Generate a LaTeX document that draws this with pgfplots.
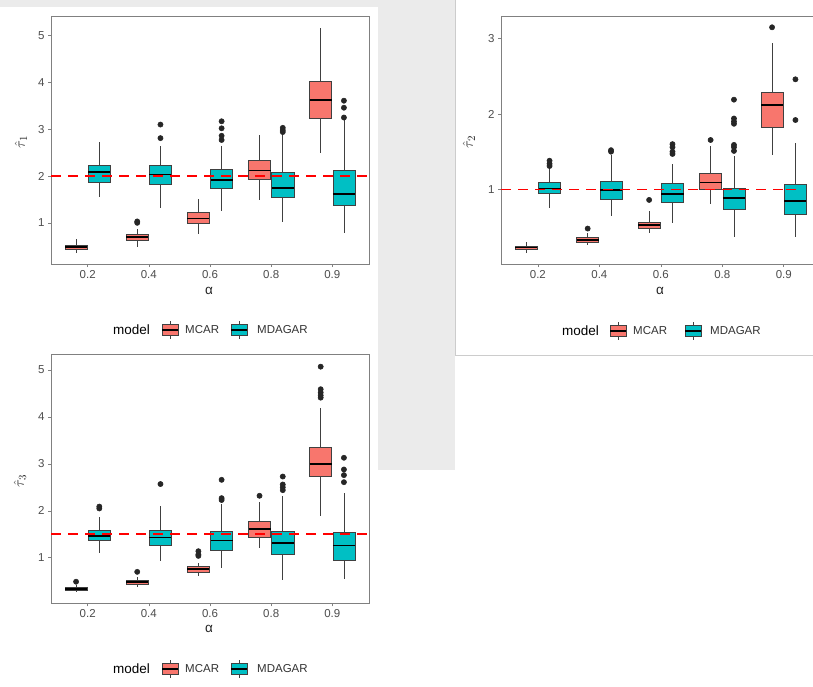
\documentclass[border=0pt]{standalone}
\usepackage{fontspec}
\setmainfont{Liberation Sans}
\usepackage{pgfplots}
\pgfplotsset{compat=1.18}
\usepgfplotslibrary{statistics}
\definecolor{mcar}{HTML}{F8766D}
\definecolor{mdagar}{HTML}{00BFC4}
\definecolor{axgray}{HTML}{808080}
\definecolor{txtgray}{HTML}{4D4D4D}
\definecolor{bggray}{HTML}{EBEBEB}
\definecolor{refred}{HTML}{FF0000}
\newcommand{\tickfont}{\fontsize{11.5}{13}\selectfont}
\newcommand{\legfont}{\fontsize{11.5}{13}\selectfont}
\newcommand{\titfont}{\fontsize{13.5}{15}\selectfont}
\pgfplotsset{
  boxstyle/.style={solid, draw=black!75, line width=0.55pt,
    mark=*, mark size=2.6pt, mark options={fill=black!85, draw=black!85, solid},
    boxplot/draw direction=y,
    boxplot/box extend=0.36, boxplot/whisker extend=0,
    boxplot/every median/.style={draw=black, line width=1.7pt}},
  panel/.style={scale only axis, width=318pt, height=248pt,
    xmin=0.4, xmax=5.6, xtick={1,2,3,4,5},
    xticklabels={0.2,0.4,0.6,0.8,0.9},
    axis line style={draw=axgray, line width=0.8pt},
    tick style={draw=axgray, line width=0.6pt},
    tick align=outside, major tick length=3pt,
    xtick pos=bottom, ytick pos=left,
    ticklabel style={font=\tickfont, text=txtgray},
    /pgf/number format/assume math mode=true},
  refline/.style={draw=refred, color=refred, solid, line width=1.7pt, dash pattern=on 10pt off 7pt, mark=none},
}
% #1 position, #2 colour, #3..#7 lower whisker, lower quartile, median, upper quartile, upper whisker, #8 outliers
\newcommand{\bp}[8]{\addplot[boxstyle, boxplot/every box/.style={fill=#2, draw=black!75, line width=0.55pt},
  boxplot prepared={draw position=#1, lower whisker=#3, lower quartile=#4, median=#5, upper quartile=#6, upper whisker=#7}]
  table[row sep=\\, y index=0] {v\\#8};}
\newcommand{\bpn}[7]{\addplot[boxstyle, boxplot/every box/.style={fill=#2, draw=black!75, line width=0.55pt},
  boxplot prepared={draw position=#1, lower whisker=#3, lower quartile=#4, median=#5, upper quartile=#6, upper whisker=#7}]
  coordinates {};}
\newcommand{\keybox}[3]{%
  \draw[black!75, line width=0.5pt] ({#1+8},{-#2+9}) -- ({#1+8},{-#2-9});
  \draw[black!75, line width=0.5pt, fill=#3] ({#1},{-#2+5.5}) rectangle ({#1+16},{-#2-5.5});
  \draw[black, line width=1.4pt] ({#1},{-#2}) -- ({#1+16},{-#2});}
\newcommand{\mylegend}[6]{%
  \node[anchor=west, inner sep=0pt, font=\titfont, text=black] at (#1,-#6) {model};
  \keybox{#2}{#6}{mcar}
  \node[anchor=west, inner sep=0pt, font=\legfont, text=black!80] at (#3,-#6) {MCAR};
  \keybox{#4}{#6}{mdagar}
  \node[anchor=west, inner sep=0pt, font=\legfont, text=black!80] at (#5,-#6) {MDAGAR};}
\begin{document}
\begin{tikzpicture}[x=1pt, y=1pt]
\path[use as bounding box, clip] (0,0) rectangle (813,-687);
\fill[white] (0,0) rectangle (813,-687);
% watermark-like grey areas
\fill[bggray] (378,0) rectangle (455,-470);
\fill[bggray] (0,0) rectangle (378,-7);
\draw[black!20, line width=0.6pt] (455,0) -- (455,-355) -- (813,-355);

% ---------------- Panel 1 ----------------
\begin{axis}[panel, at={(51pt,-264pt)}, anchor=south west,
  ymin=0.12, ymax=5.42, ytick={1,2,3,4,5}]
\bpn{0.81}{mcar}{0.35}{0.44}{0.49}{0.53}{0.66}
\bpn{1.19}{mdagar}{1.56}{1.875}{2.08}{2.24}{2.73}
\bp{1.81}{mcar}{0.49}{0.63}{0.69}{0.757}{0.86}{1.0\\1.03\\}
\bp{2.19}{mdagar}{1.31}{1.82}{2.03}{2.22}{2.64}{2.81\\3.10\\}
\bpn{2.81}{mcar}{0.77}{0.985}{1.09}{1.22}{1.51}
\bp{3.19}{mdagar}{1.26}{1.745}{1.91}{2.155}{2.65}{2.77\\2.86\\3.02\\3.17\\}
\bpn{3.81}{mcar}{1.48}{1.93}{2.12}{2.34}{2.87}
\bp{4.19}{mdagar}{1.02}{1.54}{1.75}{2.09}{2.90}{2.94\\2.98\\3.03\\}
\bpn{4.81}{mcar}{2.50}{3.24}{3.62}{4.03}{5.16}
\bp{5.19}{mdagar}{0.79}{1.37}{1.61}{2.13}{3.19}{3.25\\3.46\\3.61\\}
\addplot[refline] coordinates {(0.4,2) (5.6,2)};
\end{axis}
\node[rotate=90, font=\fontsize{15}{17}\selectfont, text=black!85] at (21,-142) {$\hat{\tau}_1$};
\node[font=\titfont, text=black!85] at (209,-291) {α};
\mylegend{113}{162}{185}{231}{257}{330}

% ---------------- Panel 2 ----------------
\begin{axis}[panel, width=312pt, xmax=5.476, at={(501pt,-264pt)}, anchor=south west,
  ymin=0.01, ymax=3.30, ytick={1,2,3}]
\bpn{0.81}{mcar}{0.16}{0.20}{0.23}{0.25}{0.30}
\bp{1.19}{mdagar}{0.75}{0.945}{1.01}{1.09}{1.28}{1.31\\1.34\\1.38\\}
\bp{1.81}{mcar}{0.26}{0.30}{0.33}{0.36}{0.42}{0.48\\}
\bp{2.19}{mdagar}{0.645}{0.87}{0.99}{1.11}{1.455}{1.50\\1.52\\}
\bp{2.81}{mcar}{0.42}{0.48}{0.526}{0.57}{0.716}{0.86\\}
\bp{3.19}{mdagar}{0.55}{0.83}{0.94}{1.08}{1.34}{1.47\\1.50\\1.56\\1.60\\}
\bp{3.81}{mcar}{0.81}{1.0}{1.09}{1.22}{1.575}{1.655\\}
\bp{4.19}{mdagar}{0.37}{0.74}{0.89}{1.02}{1.44}{1.51\\1.56\\1.59\\1.87\\1.90\\1.94\\2.19\\}
\bp{4.81}{mcar}{1.455}{1.82}{2.12}{2.29}{2.94}{3.15\\}
\bp{5.19}{mdagar}{0.37}{0.667}{0.845}{1.065}{1.61}{1.92\\2.46\\}
\end{axis}
% overlay axis (same geometry) carrying the reference line on top of the boxes
\begin{axis}[scale only axis, width=312pt, height=248pt, at={(501pt,-264pt)}, anchor=south west,
  xmin=0.4, xmax=5.476, ymin=0.01, ymax=3.30, hide axis]
\addplot[refline] coordinates {(0.4,1.0) (5.0,1.0)};
\addplot[refline] coordinates {(5.03,1.0) (5.2,1.0)};
\end{axis}
\node[rotate=90, font=\fontsize{15}{17}\selectfont, text=black!85] at (469,-142) {$\hat{\tau}_2$};
\node[font=\titfont, text=black!85] at (660,-291) {α};
\mylegend{562}{610}{633}{685}{710}{331}

% ---------------- Panel 3 ----------------
\begin{axis}[panel, height=249.3pt, at={(51pt,-603.3pt)}, anchor=south west,
  ymin=0.03, ymax=5.34, ytick={1,2,3,4,5}]
\bp{0.81}{mcar}{0.27}{0.31}{0.34}{0.38}{0.42}{0.49\\}
\bp{1.19}{mdagar}{1.11}{1.37}{1.46}{1.585}{1.86}{2.05\\2.09\\}
\bp{1.81}{mcar}{0.37}{0.44}{0.486}{0.53}{0.59}{0.70\\}
\bp{2.19}{mdagar}{0.93}{1.27}{1.43}{1.59}{2.11}{2.57\\}
\bp{2.81}{mcar}{0.61}{0.70}{0.76}{0.81}{0.89}{1.04\\1.07\\1.14\\}
\bp{3.19}{mdagar}{0.79}{1.16}{1.37}{1.57}{2.14}{2.23\\2.27\\2.66\\}
\bp{3.81}{mcar}{1.21}{1.44}{1.61}{1.77}{2.18}{2.32\\}
\bp{4.19}{mdagar}{0.52}{1.07}{1.32}{1.57}{2.32}{2.44\\2.50\\2.56\\2.73\\}
\bp{4.81}{mcar}{1.88}{2.73}{3.00}{3.36}{4.18}{4.41\\4.46\\4.52\\4.59\\5.07\\}
\bp{5.19}{mdagar}{0.54}{0.95}{1.26}{1.54}{2.39}{2.61\\2.76\\2.88\\3.13\\}
\addplot[refline] coordinates {(0.4,1.5) (5.6,1.5)};
\end{axis}
\node[rotate=90, font=\fontsize{15}{17}\selectfont, text=black!85] at (20,-481) {$\hat{\tau}_3$};
\node[font=\titfont, text=black!85] at (209,-629) {α};
\mylegend{113}{162}{185}{231}{257}{669}
\end{tikzpicture}
\end{document}
